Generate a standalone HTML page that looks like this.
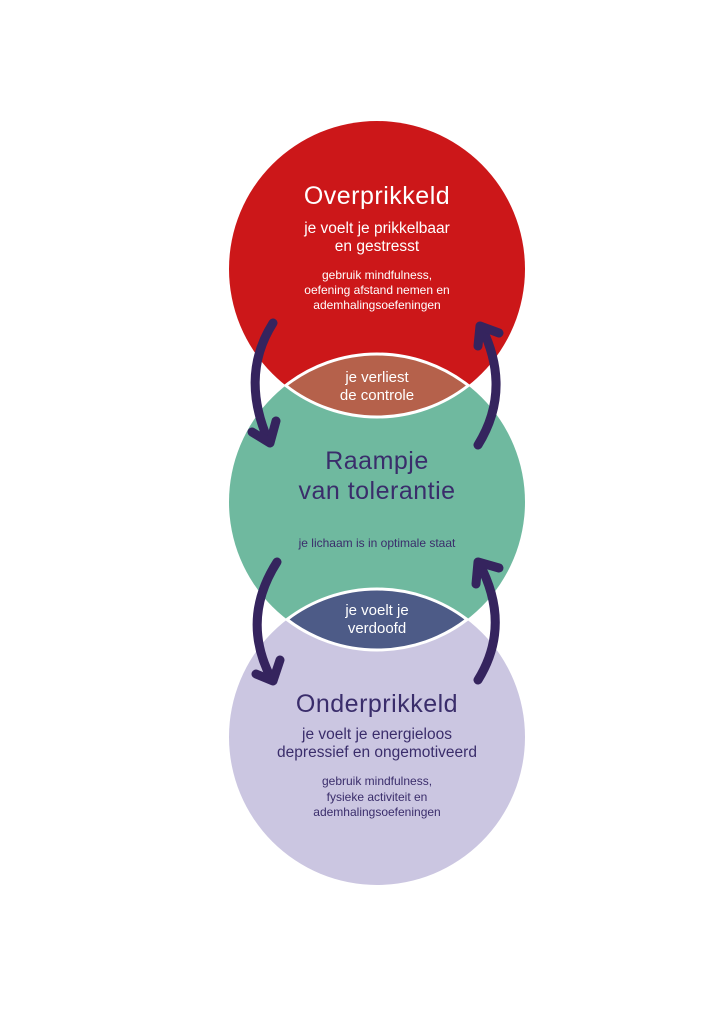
<!DOCTYPE html>
<html><head><meta charset="utf-8"><style>html,body{margin:0;padding:0;background:#fff}svg{display:block}</style></head>
<body>
<svg width="724" height="1024" viewBox="0 0 724 1024" xmlns="http://www.w3.org/2000/svg" font-family="Liberation Sans, sans-serif" text-anchor="middle">
<rect width="724" height="1024" fill="#fff"/>
<circle cx="377" cy="269" r="148" fill="#cc1719"/>
<circle cx="377" cy="502" r="148" fill="#6fb99f"/>
<circle cx="377" cy="737" r="148" fill="#cbc6e1"/>
<path d="M285.7,385.5 A148,148 0 0 1 468.3,385.5 A148,148 0 0 1 285.7,385.5 Z" fill="#b5614b" stroke="#fff" stroke-width="3"/>
<path d="M287,619.5 A148,148 0 0 1 467,619.5 A148,148 0 0 1 287,619.5 Z" fill="#4d5b87" stroke="#fff" stroke-width="3"/>
<g fill="none" stroke="#35245e" stroke-width="9" stroke-linecap="round" stroke-linejoin="round">
<path d="M273,323 Q240,375 268,440"/>
<polyline points="252,432 270,443 276,421"/>
<path d="M478,445 Q512,390 482,328"/>
<polyline points="478,346 480,326 499,333"/>
<path d="M277,562 Q240,620 272,680"/>
<polyline points="256,674 273,681 280,660"/>
<path d="M478,680 Q512,625 479,563"/>
<polyline points="476,584 478,562 499,568"/>
</g>
<g fill="#fff">
<text x="377" y="204" font-size="25" letter-spacing="0.5">Overprikkeld</text>
<text x="377" y="233" font-size="15.5">je voelt je prikkelbaar</text>
<text x="377" y="251" font-size="15.5">en gestresst</text>
<text x="377" y="279" font-size="12">gebruik mindfulness,</text>
<text x="377" y="294" font-size="12">oefening afstand nemen en</text>
<text x="377" y="309" font-size="12">ademhalingsoefeningen</text>
<text x="377" y="382" font-size="15">je verliest</text>
<text x="377" y="400" font-size="15">de controle</text>
<text x="377" y="615" font-size="15">je voelt je</text>
<text x="377" y="633" font-size="15">verdoofd</text>
</g>
<g fill="#3a2d6b">
<text x="377" y="469" font-size="25" letter-spacing="0.5">Raampje</text>
<text x="377" y="499" font-size="25" letter-spacing="0.5">van tolerantie</text>
<text x="377" y="547" font-size="12">je lichaam is in optimale staat</text>
<text x="377" y="712" font-size="25" letter-spacing="0.5">Onderprikkeld</text>
<text x="377" y="739" font-size="15.5">je voelt je energieloos</text>
<text x="377" y="757" font-size="15.5">depressief en ongemotiveerd</text>
<text x="377" y="785" font-size="12">gebruik mindfulness,</text>
<text x="377" y="801" font-size="12">fysieke activiteit en</text>
<text x="377" y="816" font-size="12">ademhalingsoefeningen</text>
</g>
</svg>
</body></html>
